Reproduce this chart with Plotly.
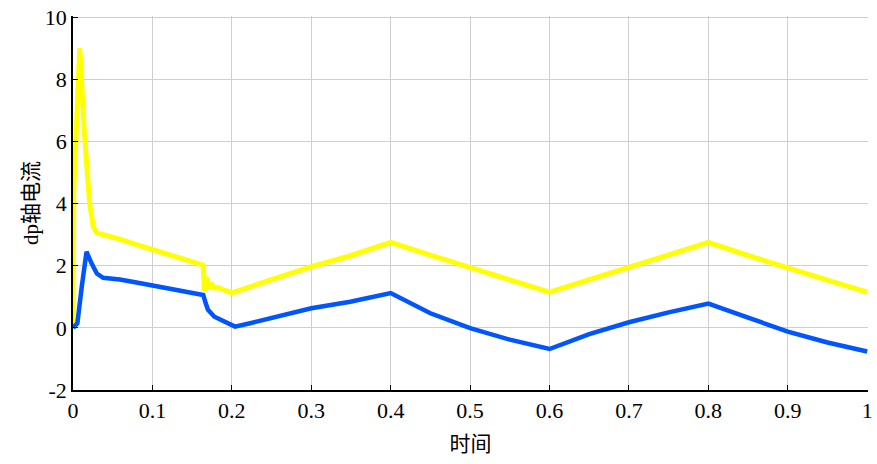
import plotly.graph_objects as go

# time samples and series values
t_yellow = [0.0, 0.001, 0.0085, 0.0147, 0.021, 0.0256, 0.03, 0.04, 0.05, 0.06, 0.076, 0.1,
            0.12, 0.139, 0.155, 0.164, 0.1655, 0.168, 0.171, 0.174, 0.178, 0.183, 0.19, 0.2,
            0.25, 0.3, 0.35, 0.4, 0.45, 0.5, 0.55, 0.6, 0.65, 0.7, 0.75, 0.8, 0.85, 0.9, 0.95, 1.0]
v_yellow = [0.0, 4.4, 9.0, 6.13, 4.0, 3.25, 3.06, 3.0, 2.95, 2.85, 2.71, 2.52,
            2.4, 2.23, 2.1, 2.02, 1.2, 1.64, 1.25, 1.45, 1.28, 1.3, 1.22, 1.13,
            1.55, 1.97, 2.33, 2.75, 2.34, 1.93, 1.54, 1.15, 1.55, 1.96, 2.35, 2.75, 2.33, 1.92, 1.54, 1.15]

t_blue = [0.0, 0.0055, 0.011, 0.017, 0.0235, 0.03, 0.038, 0.059, 0.08, 0.097, 0.12, 0.14,
          0.164, 0.167, 0.17, 0.178, 0.19, 0.2, 0.204, 0.223, 0.25, 0.265, 0.3, 0.349, 0.4,
          0.45, 0.5, 0.55, 0.6, 0.65, 0.7, 0.75, 0.8, 0.85, 0.9, 0.95, 1.0]
v_blue = [0.0, 0.15, 1.32, 2.45, 2.07, 1.75, 1.61, 1.56, 1.46, 1.38, 1.28, 1.2,
          1.06, 0.8, 0.58, 0.36, 0.2, 0.08, 0.04, 0.15, 0.33, 0.42, 0.63, 0.84, 1.12,
          0.47, -0.01, -0.38, -0.68, -0.2, 0.18, 0.5, 0.78, 0.33, -0.12, -0.47, -0.76]

x_ticks = [0, 0.1, 0.2, 0.3, 0.4, 0.5, 0.6, 0.7, 0.8, 0.9, 1]
x_labels = ["0", "0.1", "0.2", "0.3", "0.4", "0.5", "0.6", "0.7", "0.8", "0.9", "1"]
y_ticks = [-2, 0, 2, 4, 6, 8, 10]
y_labels = ["-2", "0", "2", "4", "6", "8", "10"]

font_family = "Liberation Serif, Noto Sans CJK SC, serif"

fig = go.Figure()
fig.add_trace(go.Scatter(x=t_yellow, y=v_yellow, mode="lines",
                         line=dict(color="#ffff00", width=5), showlegend=False, cliponaxis=False))
fig.add_trace(go.Scatter(x=t_blue, y=v_blue, mode="lines",
                         line=dict(color="#0055ff", width=4.5), showlegend=False, cliponaxis=False))

axis_common = dict(showgrid=True, gridcolor="#cfcfcf", gridwidth=1,
                   showline=True, linecolor="black", linewidth=1.5,
                   ticks="inside", ticklen=5, tickcolor="black", automargin=False,
                   ticklabeloverflow="allow",
                   zeroline=False, tickfont=dict(family=font_family, size=22, color="black"))

fig.update_layout(
    width=877, height=464,
    margin=dict(l=73, r=9, t=16, b=74),
    paper_bgcolor="white", plot_bgcolor="white",
    font=dict(family=font_family, color="black"),
    xaxis=dict(range=[0, 1.001], tickvals=x_ticks, ticktext=x_labels,
               title=dict(text="时间", font=dict(family=font_family, size=21), standoff=14),
               **axis_common),
    yaxis=dict(range=[-2, 10.04], tickvals=y_ticks, ticktext=y_labels,
               title=dict(text="dp轴电流", font=dict(family=font_family, size=21), standoff=0),
               **axis_common),
)

# remove the default 8px page margin so the figure fills the window exactly
fig.write_html("out.html",
               config={"displayModeBar": False},
               post_script="document.body.style.margin='0';document.body.style.overflow='hidden';")
